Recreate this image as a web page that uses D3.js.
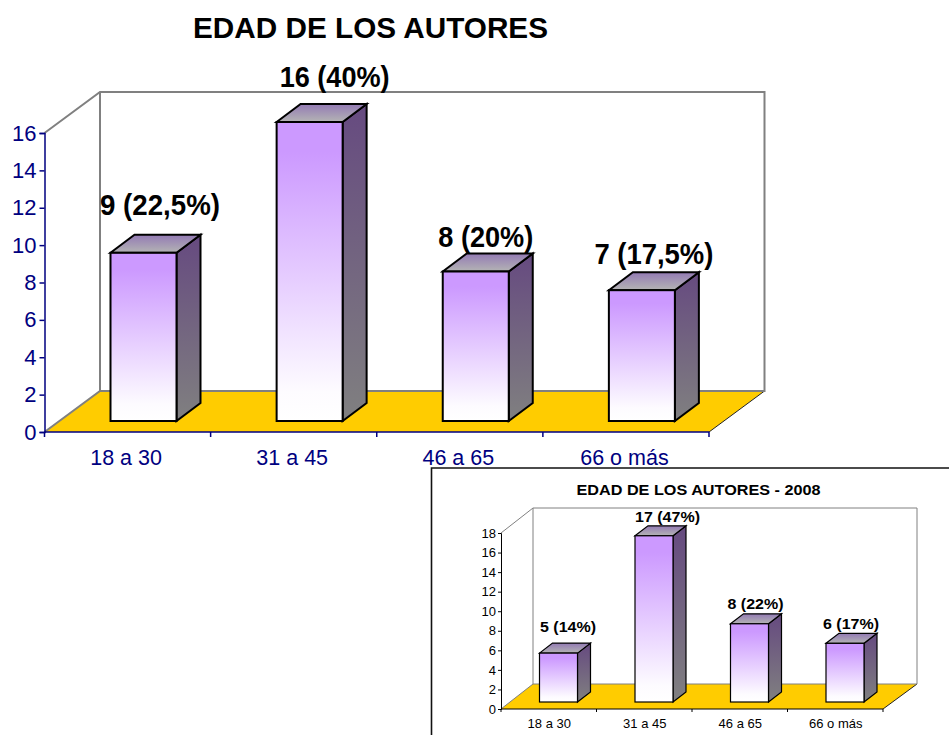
<!DOCTYPE html>
<html><head><meta charset="utf-8">
<script src="https://cdnjs.cloudflare.com/ajax/libs/d3/7.8.5/d3.min.js"></script>
<style>html,body{margin:0;padding:0;background:#fff}svg{display:block}text{font-family:"Liberation Sans",Arial,sans-serif}</style>
</head><body><svg id="c" width="949" height="735"></svg>
<script>
const categories = ["18 a 30", "31 a 45", "46 a 65", "66 o más"];
const mainValues = [9, 16, 8, 7];
const mainLabels = ["9 (22,5%)", "16 (40%)", "8 (20%)", "7 (17,5%)"];
const mainTicks = [0, 2, 4, 6, 8, 10, 12, 14, 16];
const insetValues = [5, 17, 8, 6];
const insetLabels = ["5 (14%)", "17 (47%)", "8 (22%)", "6 (17%)"];
const insetTicks = [0, 2, 4, 6, 8, 10, 12, 14, 16, 18];

const svg = d3.select("#c");
const defs = svg.append("defs");
function grad(id, stops) {
  const g = defs.append("linearGradient").attr("id", id).attr("x1", 0).attr("y1", 0).attr("x2", 0).attr("y2", 1);
  stops.forEach(([o, c]) => g.append("stop").attr("offset", o).attr("stop-color", c));
}
grad("front", [[0, "#CC99FF"], [0.1, "#CC99FF"], [0.9, "#FDFBFF"], [1, "#FFFFFF"]]);
grad("side", [[0, "#664A80"], [1, "#808080"]]);
grad("topf", [[0, "#937AB4"], [1, "#B4B4B4"]]);

function chart(o) {
  const g = svg.append("g");
  const x = d3.scaleBand().domain(o.categories).range([o.x0, o.x1]);
  const y = d3.scaleLinear().domain([0, o.max]).range([o.y0, o.y1]);
  const bx = o.x0 + o.depthXL, by = o.y0 - o.depthY, tx = o.x1 + o.depthX, ty = o.y1 - o.depthY;

  // floor
  g.append("path").attr("d", `M${o.x0},${o.y0}L${bx},${by}H${tx}L${o.x1},${o.y0}Z`).attr("fill", "#FFCC00");
  g.append("path").attr("d", `M${o.x1},${o.y0}L${tx},${by}`).attr("fill", "none").attr("stroke", "#222").attr("stroke-width", 1);
  g.append("path").attr("d", `M${o.x0},${o.y1}L${bx},${ty}H${tx}V${by}H${bx}L${o.x0},${o.y0}M${bx},${ty}V${by}`)
    .attr("fill", "none").attr("stroke", "#808080").attr("stroke-width", o.wall).attr("stroke-linejoin", "miter");

  // bars
  const bars = g.selectAll("g.bar").data(o.values).join("g").attr("class", "bar");
  const left = (d, i) => x(o.categories[i]) + o.barOff;
  const top = d => y(d) - o.lift, bot = o.y0 - o.lift;
  const attrs = s => s.attr("stroke", "#000").attr("stroke-width", o.barStroke).attr("stroke-linejoin", "miter");
  bars.append("path").attr("fill", "url(#side)").call(attrs)
    .attr("d", (d, i) => { const l = left(d, i) + o.barW; return `M${l},${top(d)}l${o.barDX},${-o.barDY}V${bot - o.barDY}L${l},${bot}Z`; });
  bars.append("path").attr("fill", "url(#topf)").call(attrs)
    .attr("d", (d, i) => { const l = left(d, i); return `M${l},${top(d)}l${o.barDX},${-o.barDY}h${o.barW}l${-o.barDX},${o.barDY}Z`; });
  bars.append("rect").attr("fill", "url(#front)").call(attrs)
    .attr("x", left).attr("y", top).attr("width", o.barW).attr("height", d => bot - top(d));

  // y axis
  const ya = g.append("g").attr("transform", `translate(${o.x0},0)`)
    .call(d3.axisLeft(y).tickValues(o.ticks).tickSize(o.tick).tickPadding(o.tickPad));
  ya.selectAll("path,line").attr("stroke", o.axis).attr("stroke-width", o.axisW);
  ya.selectAll("text").attr("fill", o.axis).attr("font-size", o.tickFont).attr("font-family", null);

  // x axis
  const xa = g.append("g").attr("transform", `translate(0,${o.y0})`)
    .call(d3.axisBottom(x).tickSize(0).tickPadding(o.catPad));
  xa.select("path").remove();
  xa.selectAll("text").attr("fill", o.axis).attr("font-size", o.catFont).attr("font-family", null).attr("dx", o.catDx);
  xa.selectAll(".tick line").remove();
  xa.append("path").attr("d", `M${o.x0},0H${o.x1}`).attr("stroke", o.axis).attr("stroke-width", o.axisW).attr("fill", "none");
  xa.selectAll("line.b").data([...o.categories.map(c => x(c)), o.x1]).join("line").attr("class", "b")
    .attr("x1", d => d).attr("x2", d => d).attr("y1", 0).attr("y2", o.tick)
    .attr("stroke", o.axis).attr("stroke-width", o.axisW);

  // value labels
  g.selectAll("text.v").data(o.labels).join("text").attr("class", "v")
    .attr("text-anchor", "middle").attr("font-weight", "bold").attr("font-size", o.valFont).attr("fill", "#000")
    .attr("x", (d, i) => x(o.categories[i]) + o.barOff + o.barW / 2 + o.labelDx[i])
    .attr("y", (d, i) => y(o.values[i]) + o.labelDy[i])
    .attr("textLength", (d, i) => o.labelLen[i]).attr("lengthAdjust", "spacingAndGlyphs")
    .text(d => d);

  // title
  g.append("text").attr("x", o.titleX).attr("y", o.titleY).attr("text-anchor", "middle")
    .attr("font-weight", "bold").attr("font-size", o.titleFont).attr("fill", "#000")
    .attr("textLength", o.titleLen).attr("lengthAdjust", "spacingAndGlyphs").text(o.title);
}

chart({
  categories, values: mainValues, labels: mainLabels, ticks: mainTicks, max: 16,
  x0: 44.5, x1: 709, y0: 432, y1: 133, depthX: 55.5, depthXL: 55.5, depthY: 41,
  barOff: 66, barW: 66, lift: 11, barDX: 24, barDY: 18, barStroke: 2,
  wall: 2, axis: "#000080", axisW: 1.5, tick: 5, tickPad: 3, tickFont: 22, catFont: 21.5, catPad: 17.5, catDx: -1.5,
  valFont: 30, labelDx: [16.5, 25, 10, 12], labelDy: [-48.5, -46, -36, -37], labelLen: [120, 110, 95, 119],
  title: "EDAD DE LOS AUTORES", titleX: 370.5, titleY: 38, titleFont: 30, titleLen: 355
});

svg.append("path").attr("d", "M431.5,735V468H949").attr("fill", "none").attr("stroke", "#111").attr("stroke-width", 1.6);

chart({
  categories, values: insetValues, labels: insetLabels, ticks: insetTicks, max: 18,
  x0: 501, x1: 883, y0: 709, y1: 533, depthX: 34, depthXL: 32, depthY: 25,
  barOff: 38.5, barW: 38, lift: 7, barDX: 13, barDY: 10, barStroke: 1.2,
  wall: 1, axis: "#000", axisW: 1, tick: 3, tickPad: 2, tickFont: 13, catFont: 13, catPad: 10, catDx: 0.5,
  valFont: 15.5, labelDx: [9.5, 13.5, 6, 6], labelDy: [-28, -21, -22, -21], labelLen: [56, 65, 56, 56],
  title: "EDAD DE LOS AUTORES - 2008", titleX: 698.5, titleY: 495, titleFont: 15.5, titleLen: 244
});
</script></body></html>
